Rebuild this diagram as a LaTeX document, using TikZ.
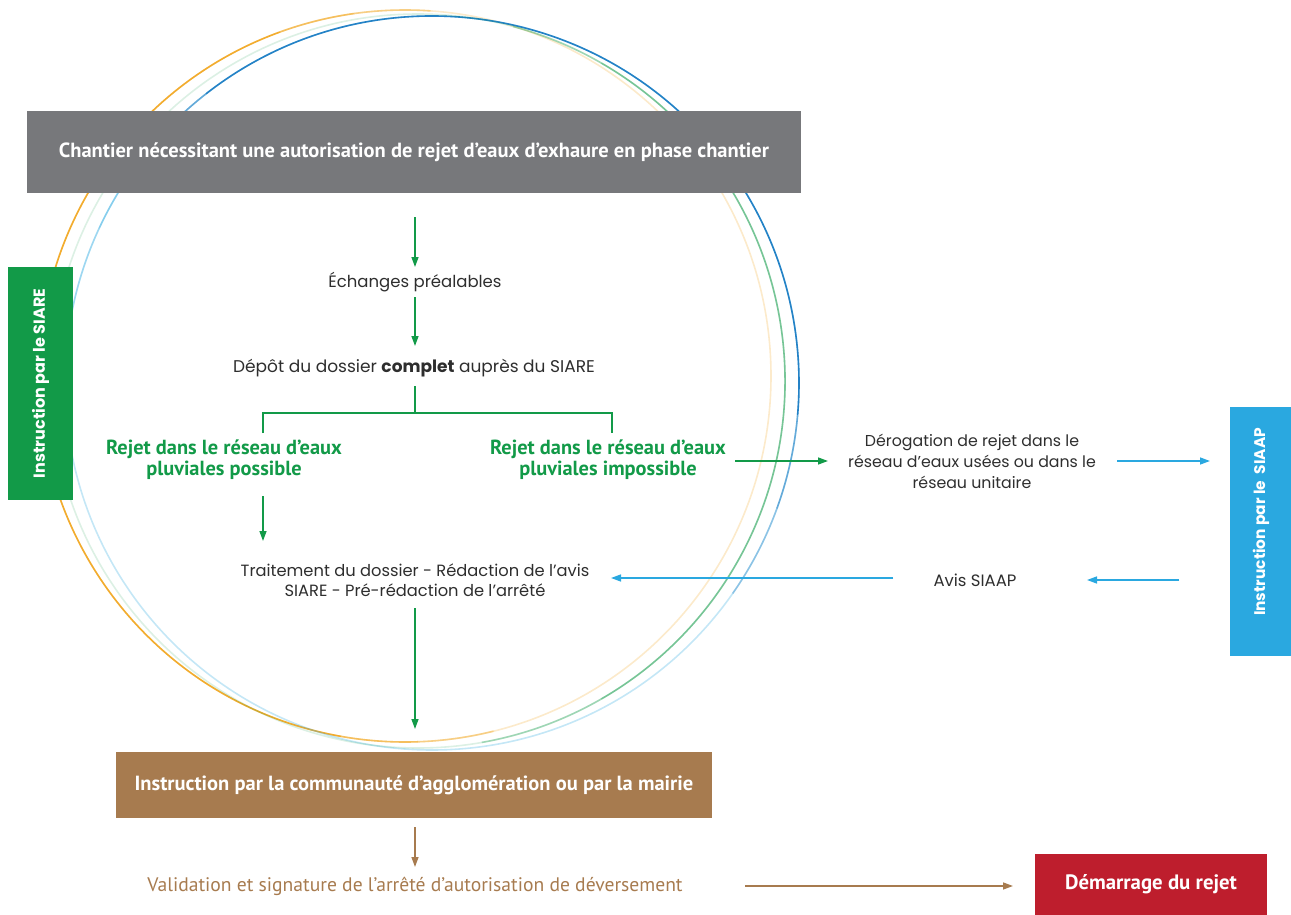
\documentclass[tikz,border=0pt]{standalone}
\usepackage{fontspec}
\setmainfont{Poppins}
\newfontfamily\cond{PT Sans}
\usetikzlibrary{arrows.meta}
\definecolor{cgray}{HTML}{77787B}
\definecolor{cgreen}{HTML}{129A48}
\definecolor{cblue}{HTML}{2AA8E0}
\definecolor{cdblue}{HTML}{2482C6}
\definecolor{cbrown}{HTML}{A77B4F}
\definecolor{cred}{HTML}{BE1E2D}
\definecolor{corange}{HTML}{F2AC2E}
\definecolor{ctext}{HTML}{2E2E2E}
\tikzset{
  boxlabel/.style={text=white, font=\cond\bfseries\fontsize{20.5}{24}\selectfont, inner sep=0, align=center},
  sidebar/.style={text=white, font=\bfseries\fontsize{16}{19}\selectfont, inner sep=0, rotate=90},
  plain/.style={text=ctext, font=\fontsize{16.5}{21}\selectfont, align=center, inner sep=0},
  glabel/.style={text=cgreen, font=\cond\bfseries\fontsize{20.4}{21}\selectfont, align=center, inner sep=0},
  arr/.style={line width=1.4pt, -{Triangle[length=10pt,width=7pt]}},
  garr/.style={arr, draw=cgreen, fill=cgreen},
  barr/.style={arr, draw=cblue, fill=cblue},
  brarr/.style={arr, draw=cbrown, fill=cbrown},
  ring/.style={line width=1.6pt},
}
\begin{document}
\begin{tikzpicture}[x=1pt,y=-1pt]
\useasboundingbox (0,0) rectangle (1291,915);
% rings
\draw[ring, corange, opacity=.25] (405,376) circle[radius=366];
\foreach \a/\b/\o in {100/250/1, 250/262/.7, 262/274/.45, 88/100/.7, 76/88/.45}
  {\draw[ring, corange, opacity=\o] (405,376) ++(\a:366) arc[start angle=\a, end angle=\b, radius=366];}
\draw[ring, cblue, opacity=.28] (432,383) circle[radius=367];
\foreach \a/\b/\o in {190/205/.25, 205/220/.4}
  {\draw[ring, cblue, opacity=\o] (432,383) ++(\a:367) arc[start angle=\a, end angle=\b, radius=367];}
\foreach \a/\b/\o in {232/365/1, 220/232/.6, 365/380/.6, 380/395/.35}
  {\draw[ring, cdblue, opacity=\o] (432,383) ++(\a:367) arc[start angle=\a, end angle=\b, radius=367];}
\draw[ring, cgreen, opacity=.15] (418,381) circle[radius=367];
\foreach \a/\b/\o in {300/420/.5, 285/300/.3, 420/440/.3}
  {\draw[ring, cgreen, opacity=\o] (418,381) ++(\a:367) arc[start angle=\a, end angle=\b, radius=367];}

% boxes
\node[boxlabel, fill=cgray, minimum width=774, minimum height=82] (chantier) at (414,152)
  {Chantier nécessitant une autorisation de rejet d’eaux d’exhaure en phase chantier};
\node[sidebar, fill=cgreen, minimum width=233, minimum height=65] (siare) at (40.5,383.5) {Instruction par le SIARE};
\node[fill=cblue, minimum width=62, minimum height=249, inner sep=0] (siaapbox) at (1261,531.5) {};
\node[sidebar, font=\bfseries\fontsize{15.4}{18}\selectfont] (siaap) at (siaapbox.center |- 0,522) {Instruction par le\ \ SIAAP};
\node[boxlabel, fill=cbrown, minimum width=596, minimum height=66] (comm) at (414,785)
  {Instruction par la communauté d’agglomération ou par la mairie};
\node[boxlabel, font=\cond\bfseries\fontsize{20.8}{24}\selectfont, fill=cred, minimum width=232, minimum height=61] (demarrage) at (1151,884.5) {Démarrage du rejet};

% texts
\node[plain] (ech) at (415,282) {Échanges préalables};
\node[plain, font=\fontsize{17}{21}\selectfont] (depot) at (414,368) {Dépôt du dossier \textbf{complet} auprès du SIARE};
\node[glabel] (rp) at (224,460) {Rejet dans le réseau d’eaux\\pluviales possible};
\node[glabel] (ri) at (608,460) {Rejet dans le réseau d’eaux\\pluviales impossible};
\node[plain, font=\fontsize{15.8}{21}\selectfont] (derog) at (972,461) {Dérogation de rejet dans le\\réseau d'eaux usées ou dans le\\réseau unitaire};
\node[plain] (avis) at (975,580) {Avis SIAAP};
\node[plain, font=\fontsize{16.3}{20}\selectfont] (trait) at (415,580) {Traitement du dossier - Rédaction de l’avis\\SIARE - Pré-rédaction de l’arrêté};
\node[text=cbrown, font=\cond\fontsize{19.6}{22}\selectfont, inner sep=0] (valid) at (415,886)
  {Validation et signature de l’arrêté d’autorisation de déversement};

% connector points
\coordinate (c1s) at (415,217); \coordinate (c1e) at (415,267);
\coordinate (c2s) at (415,297); \coordinate (c2e) at (415,346);
\coordinate (t0) at (415,386); \coordinate (t1) at (415,413);
\coordinate (tl) at (263,433); \coordinate (tr) at (612,433);
\coordinate (c3s) at (263,496); \coordinate (c3e) at (263,541);
\coordinate (c4s) at (735,461); \coordinate (c4e) at (828,461);
\coordinate (c5s) at (1117,461); \coordinate (c5e) at (1210,461);
\coordinate (c6s) at (1179,580); \coordinate (c6e) at (1087,580);
\coordinate (c7s) at (893,578); \coordinate (c7e) at (611,578);
\coordinate (c8s) at (415,608); \coordinate (c8e) at (415,729);
\coordinate (c9s) at (415,827); \coordinate (c9e) at (415,867);
\coordinate (c10s) at (745,886); \coordinate (c10e) at (1013,886);

\draw[garr] (c1s) -- (c1e);
\draw[garr] (c2s) -- (c2e);
\draw[cgreen, line width=1.4pt] (t0) -- (t1);
\draw[cgreen, line width=1.4pt] (tl) |- (t1) -| (tr);
\draw[garr] (c3s) -- (c3e);
\draw[garr] (c4s) -- (c4e);
\draw[barr] (c5s) -- (c5e);
\draw[barr] (c6s) -- (c6e);
\draw[barr] (c7s) -- (c7e);
\draw[garr] (c8s) -- (c8e);
\draw[brarr] (c9s) -- (c9e);
\draw[brarr] (c10s) -- (c10e);
\end{tikzpicture}
\end{document}
